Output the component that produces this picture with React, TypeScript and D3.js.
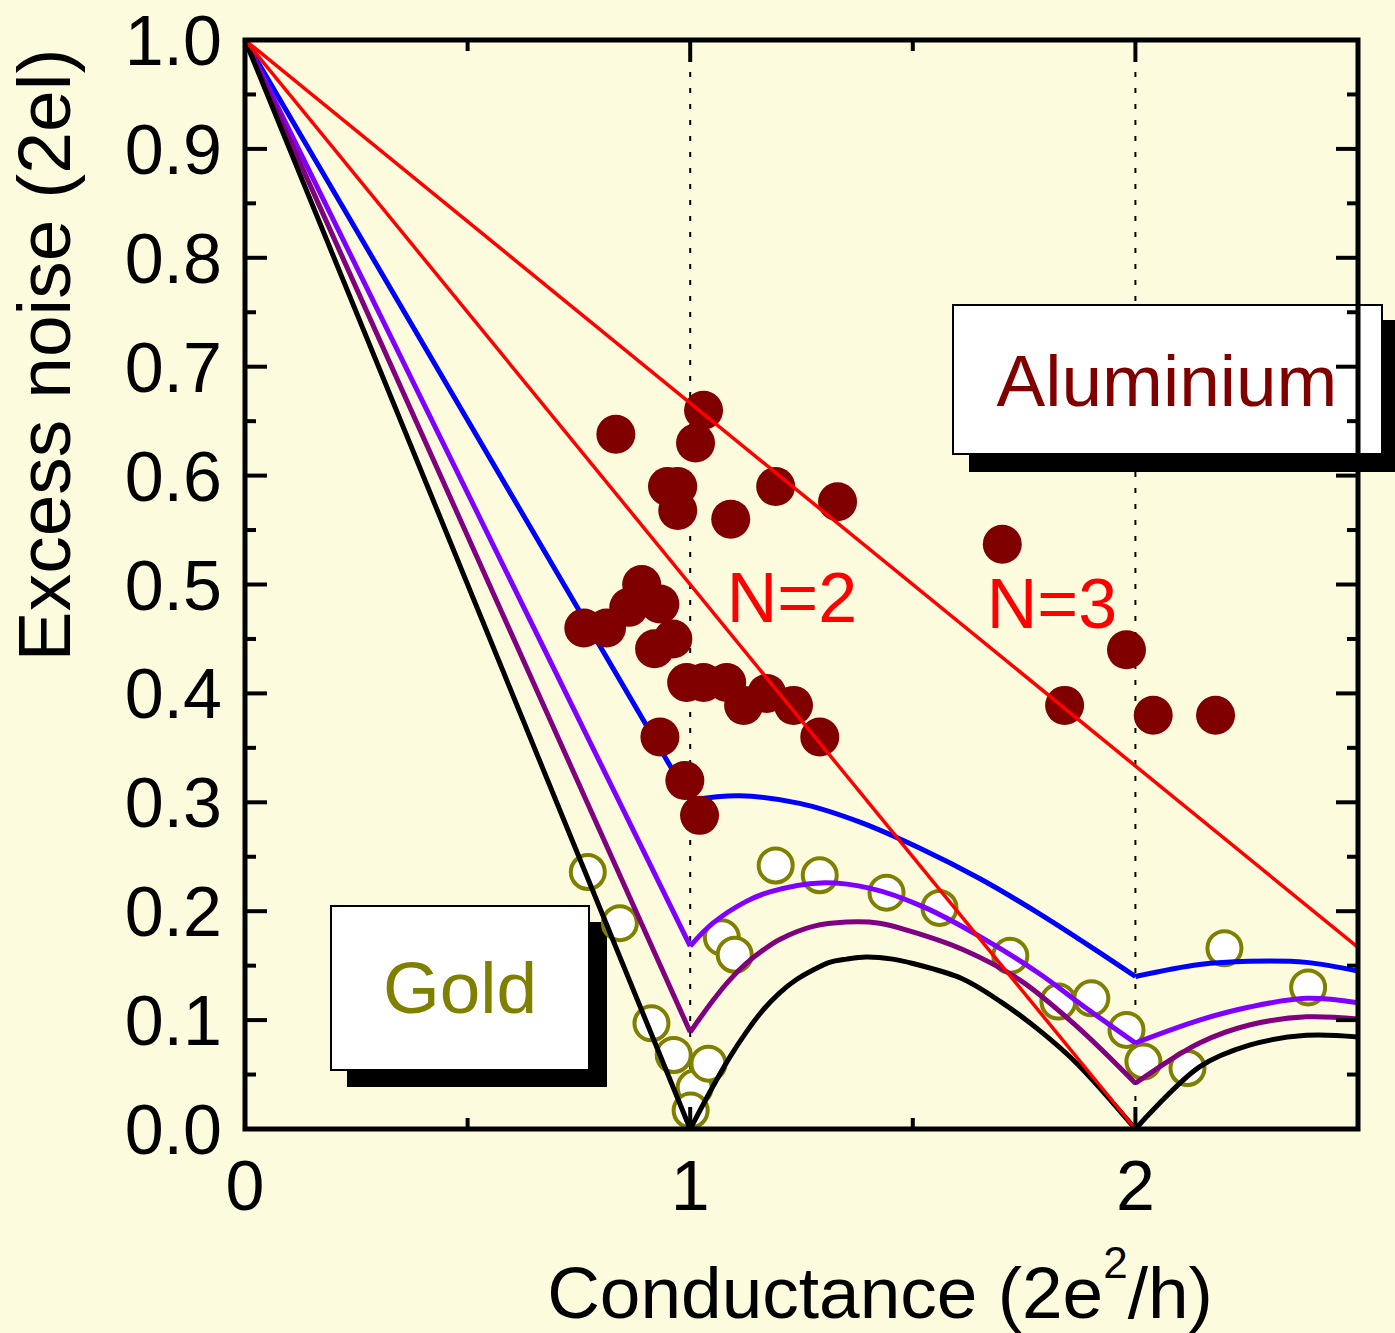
import React from "react";
import * as d3 from "d3";

// theory curves: [conductance, excess noise]
const blueCurve: [number, number][] = [
  [0, 1], [1.0, 0.302], [1.111, 0.306], [1.246, 0.299], [1.38, 0.282], [1.515, 0.258],
  [1.65, 0.23], [1.783, 0.198], [1.912, 0.164], [2.0, 0.14],
  [2.144, 0.151], [2.256, 0.154], [2.384, 0.153], [2.5, 0.145],
];
const violetCurve: [number, number][] = [
  [0, 1], [1.0, 0.168], [1.051, 0.189], [1.126, 0.209], [1.181, 0.218], [1.293, 0.226],
  [1.405, 0.221], [1.524, 0.204], [1.654, 0.176], [1.783, 0.143], [1.886, 0.112], [2.0, 0.079],
  [2.144, 0.1], [2.256, 0.112], [2.384, 0.12], [2.5, 0.116],
];
const purpleCurve: [number, number][] = [
  [0, 1], [1.0, 0.089], [1.051, 0.118], [1.089, 0.137], [1.126, 0.152], [1.163, 0.164],
  [1.201, 0.174], [1.276, 0.186], [1.351, 0.19], [1.425, 0.189], [1.5, 0.181], [1.611, 0.165],
  [1.74, 0.137], [1.869, 0.094], [2.0, 0.042],
  [2.144, 0.079], [2.256, 0.0955], [2.384, 0.103], [2.5, 0.101],
];
const blackCurve: [number, number][] = [
  [0, 1], [1.0, 0], [1.051, 0.039], [1.089, 0.066], [1.126, 0.089], [1.163, 0.109],
  [1.201, 0.125], [1.238, 0.137], [1.276, 0.146], [1.313, 0.153], [1.351, 0.156], [1.395, 0.158],
  [1.455, 0.156], [1.5, 0.152], [1.611, 0.138], [1.697, 0.117], [1.783, 0.091], [1.869, 0.06], [2.0, 0],
  [2.144, 0.057], [2.256, 0.077], [2.384, 0.086], [2.5, 0.0845],
];
const lineN2: [number, number][] = [[0, 1], [2, 0]];
const lineN3: [number, number][] = [[0, 1], [2.5, 0.1667]];

const aluminium: [number, number][] = [
  [1.03, 0.66], [0.833, 0.638], [1.012, 0.63], [0.949, 0.59], [0.972, 0.59], [0.972, 0.568],
  [1.091, 0.56], [1.192, 0.59], [1.331, 0.576], [0.891, 0.5], [0.862, 0.479], [0.932, 0.482],
  [0.761, 0.46], [0.812, 0.46], [0.961, 0.45], [0.92, 0.441], [0.992, 0.41], [1.03, 0.41],
  [1.082, 0.41], [1.172, 0.4], [1.12, 0.389], [1.232, 0.389], [1.291, 0.36], [0.932, 0.36],
  [0.988, 0.32], [1.021, 0.288], [1.701, 0.537], [1.98, 0.44], [1.841, 0.389], [2.04, 0.38],
  [2.18, 0.38],
];
const gold: [number, number][] = [
  [0.77, 0.236], [0.842, 0.189], [0.913, 0.097], [0.963, 0.068], [1.01, 0.038], [1.001, 0.017],
  [1.041, 0.06], [1.071, 0.176], [1.1, 0.16], [1.192, 0.242], [1.291, 0.233], [1.441, 0.217],
  [1.56, 0.203], [1.719, 0.159], [1.827, 0.117], [1.901, 0.12], [1.98, 0.091], [2.018, 0.062],
  [2.117, 0.056], [2.2, 0.166], [2.388, 0.13],
];

const xTickLabels = ["0", "1", "2"];
const yTickLabels = ["0.0", "0.1", "0.2", "0.3", "0.4", "0.5", "0.6", "0.7", "0.8", "0.9", "1.0"];

const W = 1395, H = 1333;
const FONT = "'Liberation Sans', Arial, sans-serif";

export default function App() {
  const x = d3.scaleLinear().domain([0, 2.5]).range([245, 1358]);
  const y = d3.scaleLinear().domain([0, 1]).range([1129, 40]);

  const straight = d3.line<[number, number]>().x(d => x(d[0])).y(d => y(d[1]));
  const smooth = d3.line<[number, number]>().x(d => x(d[0])).y(d => y(d[1])).curve(d3.curveCatmullRom.alpha(0.5));

  // split a theory curve at the kinks (G = 1 and G = 2)
  const curvePath = (pts: [number, number][]) => {
    const a = pts.filter(p => p[0] <= 1);
    const b = pts.filter(p => p[0] >= 1 && p[0] <= 2);
    const c = pts.filter(p => p[0] >= 2);
    return (straight(a) || "") + (smooth(b) || "") + (smooth(c) || "");
  };

  const theory = [
    { pts: blueCurve, color: "#0000ff" },
    { pts: violetCurve, color: "#8000ff" },
    { pts: purpleCurve, color: "#800080" },
    { pts: blackCurve, color: "#000000" },
  ];

  const yMajor = y.ticks(10);
  const yMinor = y.ticks(20).filter(t => Math.round(t * 100) % 10 !== 0);
  const xMajor = [0, 1, 2];
  const xMinor = [0.5, 1.5];

  return (
    <div style={{ position: "absolute", left: 0, top: 0 }}>
      <svg width={W} height={H} style={{ display: "block" }} fontFamily={FONT}>
        <rect width={W} height={H} fill="#fdfbde" />

        {/* dotted guides */}
        {[1, 2].map(g => (
          <line key={g} x1={x(g)} x2={x(g)} y1={y(1)} y2={y(0)} stroke="#000" strokeWidth={2} strokeDasharray="5 11" />
        ))}

        {/* label boxes */}
        <rect x={969} y={320} width={430} height={152} fill="#000" />
        <rect x={953} y={305} width={429} height={149} fill="#fff" stroke="#000" strokeWidth={2} />
        <text x={1167} y={406} textAnchor="middle" fontSize={73} fill="#800000">Aluminium</text>

        <rect x={347} y={922} width={260} height={165} fill="#000" />
        <rect x={331} y={906} width={258} height={164} fill="#fff" stroke="#000" strokeWidth={2} />
        <text x={460} y={1013} textAnchor="middle" fontSize={73} fill="#808000">Gold</text>

        {gold.map((d, i) => (
          <circle key={i} cx={x(d[0])} cy={y(d[1])} r={17} fill="#fff" stroke="#808000" strokeWidth={4} />
        ))}

        {theory.map(t => (
          <path key={t.color} d={curvePath(t.pts)} fill="none" stroke={t.color} strokeWidth={5} strokeLinejoin="miter" />
        ))}

        {aluminium.map((d, i) => (
          <circle key={i} cx={x(d[0])} cy={y(d[1])} r={19.5} fill="#800000" />
        ))}

        {[lineN2, lineN3].map((l, i) => (
          <path key={i} d={straight(l) || ""} fill="none" stroke="#ff0000" strokeWidth={3.5} />
        ))}

        <text x={792} y={622} textAnchor="middle" fontSize={70} fill="#ff0000">N=2</text>
        <text x={1052} y={628} textAnchor="middle" fontSize={70} fill="#ff0000">N=3</text>

        {/* frame */}
        <rect x={x(0)} y={y(1)} width={x(2.5) - x(0)} height={y(0) - y(1)} fill="none" stroke="#000" strokeWidth={5} />

        {yMajor.map(t => (
          <g key={"ym" + t}>
            <line x1={x(0)} x2={x(0) + 22} y1={y(t)} y2={y(t)} stroke="#000" strokeWidth={4} />
            <line x1={x(2.5)} x2={x(2.5) - 22} y1={y(t)} y2={y(t)} stroke="#000" strokeWidth={4} />
          </g>
        ))}
        {yMinor.map(t => (
          <g key={"yn" + t}>
            <line x1={x(0)} x2={x(0) + 11} y1={y(t)} y2={y(t)} stroke="#000" strokeWidth={4} />
            <line x1={x(2.5)} x2={x(2.5) - 11} y1={y(t)} y2={y(t)} stroke="#000" strokeWidth={4} />
          </g>
        ))}
        {xMajor.map(t => (
          <g key={"xm" + t}>
            <line x1={x(t)} x2={x(t)} y1={y(0)} y2={y(0) - 22} stroke="#000" strokeWidth={4} />
            <line x1={x(t)} x2={x(t)} y1={y(1)} y2={y(1) + 22} stroke="#000" strokeWidth={4} />
          </g>
        ))}
        {xMinor.map(t => (
          <g key={"xn" + t}>
            <line x1={x(t)} x2={x(t)} y1={y(0)} y2={y(0) - 11} stroke="#000" strokeWidth={4} />
            <line x1={x(t)} x2={x(t)} y1={y(1)} y2={y(1) + 11} stroke="#000" strokeWidth={4} />
          </g>
        ))}

        {yTickLabels.map((s, i) => (
          <text key={s} x={222} y={y(i / 10) + 25} textAnchor="end" fontSize={70} fill="#000">{s}</text>
        ))}
        {xTickLabels.map((s, i) => (
          <text key={s} x={x(i)} y={1210} textAnchor="middle" fontSize={70} fill="#000">{s}</text>
        ))}

        <text x={880} y={1318} textAnchor="middle" fontSize={73} fill="#000">
          Conductance (2e<tspan dy={-40} fontSize={44}>2</tspan><tspan dy={40}>/h)</tspan>
        </text>
        <text transform="translate(70,355) rotate(-90)" textAnchor="middle" fontSize={75} fill="#000">
          Excess noise (2el)
        </text>
      </svg>
    </div>
  );
}
